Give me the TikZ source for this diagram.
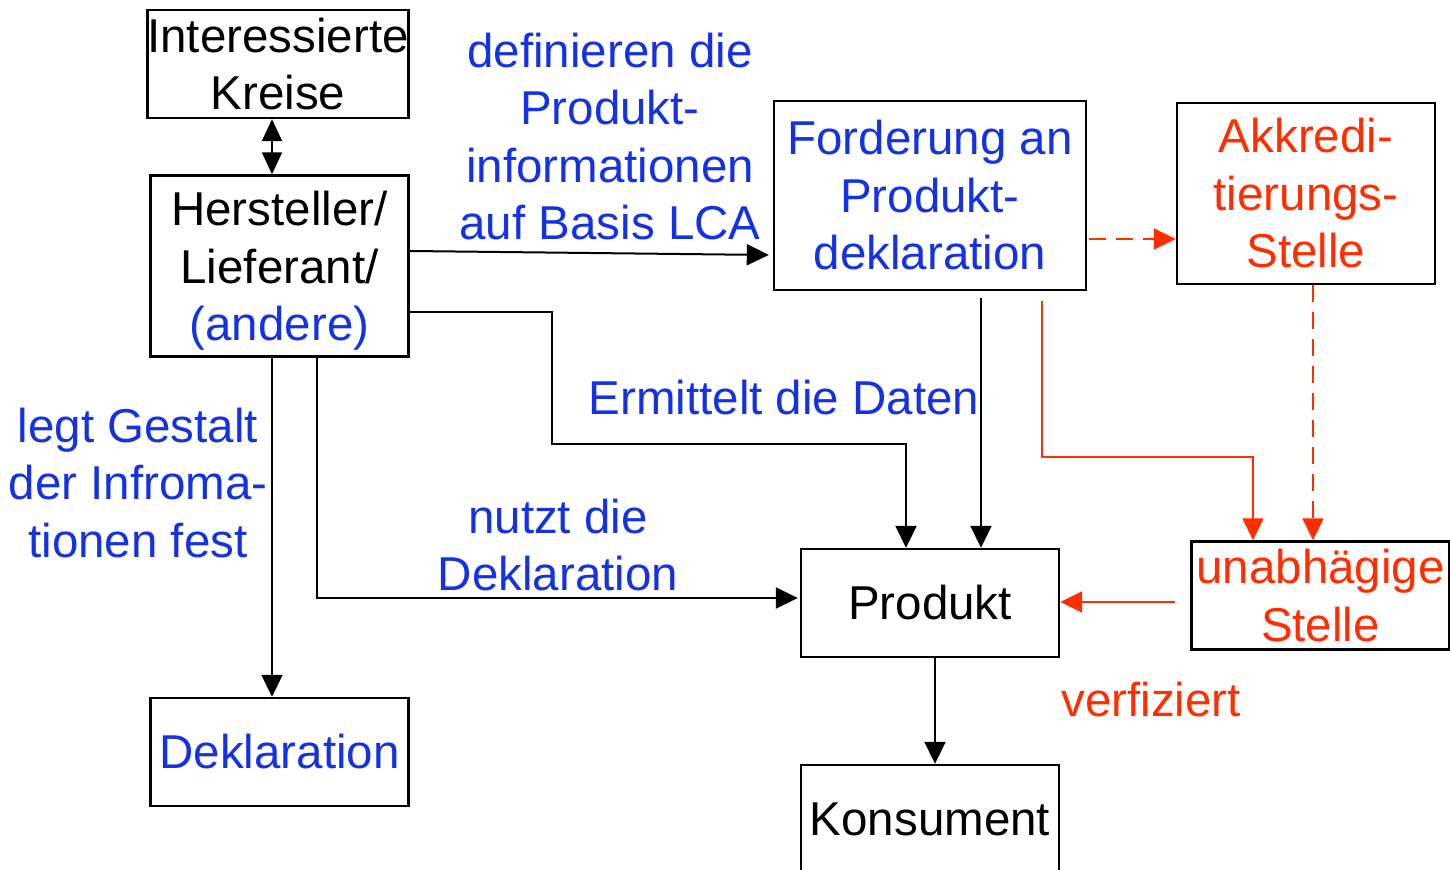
\documentclass[tikz,border=0pt]{standalone}
\usepackage{fontspec}
\setmainfont{Liberation Sans}
\usetikzlibrary{arrows.meta}

\definecolor{txtblue}{RGB}{20,50,225}
\definecolor{txtred}{RGB}{255,45,0}

\tikzstyle{box} = [rectangle, minimum width=129pt, minimum height=54pt, inner sep=0pt, align=center, draw=black, line width=1.2pt, font=\fontsize{23.75pt}{28.75pt}\selectfont]
\tikzstyle{tall} = [box, minimum height=90.5pt]
\tikzstyle{wide} = [box, minimum width=156pt, minimum height=94.5pt]
\tikzstyle{note} = [align=center, inner sep=0pt, text=txtblue, font=\fontsize{23.75pt}{28.75pt}\selectfont]
\tikzstyle{arrow} = [line width=1pt, -{Triangle[length=11pt,width=10.5pt]}]
\tikzstyle{twoway} = [line width=1pt, {Triangle[length=11pt,width=10pt]}-{Triangle[length=11pt,width=10pt]}]
\tikzstyle{redarrow} = [arrow, color=txtred]
\tikzstyle{dasharrow} = [redarrow, dash pattern=on 8.5pt off 5pt]

\begin{document}
\begin{tikzpicture}[node distance=101pt]
	\useasboundingbox (-139pt,32pt) rectangle (586pt,-403pt);
	
	\node (inter) [box] {Interessierte\\Kreise};
	\node (herst) [tall, text depth=0pt, below of=inter, xshift=0.75pt] {Hersteller/\\Lieferant/\\\textcolor{txtblue}{(andere)}};
	\node (dekl) [box, text=txtblue, below of=herst, node distance=243pt] {Deklaration};
	\node (ford) [wide, text=txtblue, right of=herst, node distance=325.25pt, yshift=35.25pt] {Forderung an\\Produkt-\\deklaration};
	\node (akkr) [tall, text=txtred, right of=ford, node distance=188pt, yshift=1pt] {Akkredi-\\tierungs-\\Stelle};
	\node (prod) [box, below of=ford, node distance=203.75pt] {Produkt};
	\node (kons) [box, below of=prod, node distance=108pt] {Konsument};
	\node (unab) [box, text=txtred, right of=prod, node distance=195.25pt, yshift=3.75pt] {unabhägige\\Stelle};
	
	\node (defin) [note, left of=ford, node distance=160pt, yshift=29.5pt] {definieren die\\Produkt-\\informationen\\auf Basis LCA};
	\node (ermit) [note, above of=prod, node distance=102.5pt, xshift=-73pt] {Ermittelt die Daten};
	\node (legt) [note, below of=herst, node distance=108.5pt, xshift=-70.75pt] {legt Gestalt\\der Infroma-\\tionen fest};
	\node (nutzt) [note, left of=prod, node distance=186pt, yshift=29pt] {nutzt die\\Deklaration};
	\node (verf) [note, text=txtred, below of=prod, node distance=48.5pt, xshift=110.5pt] {verfiziert};
	
	\draw [twoway] ([xshift=-3pt]inter.south) -- ([xshift=-3.75pt]herst.north);
	\draw [arrow] ([yshift=7.5pt]herst.east) -- ([xshift=-2pt,yshift=-29.75pt]ford.west);
	\draw [arrow] ([yshift=-23pt]herst.east) -| ++(71pt,-66pt) -| ([xshift=-12pt]prod.north);
	\draw [arrow] ([xshift=18.75pt]herst.south) |- ([xshift=-1pt,yshift=2.5pt]prod.west);
	\draw [arrow] ([xshift=-3.75pt]herst.south) -- ([xshift=-3.75pt]dekl.north);
	\draw [arrow] ([xshift=25.5pt,yshift=-3.5pt]ford.south) -- ([xshift=25.5pt]prod.north);
	\draw [arrow] ([xshift=2.5pt]prod.south) -- ([xshift=2.5pt]kons.north);
	\draw [redarrow] ([xshift=56pt,yshift=-5pt]ford.south) -- ++(0,-78pt) -| ([xshift=-33.75pt]unab.north);
	\draw [dasharrow] ([xshift=1pt,yshift=-21.75pt]ford.east) -- ([yshift=-22.75pt]akkr.west);
	\draw [dasharrow] ([xshift=3.5pt]akkr.south) -- ([xshift=-3.75pt]unab.north);
	\draw [redarrow] ([xshift=-7.5pt,yshift=-3.25pt]unab.west) -- ([yshift=0.5pt]prod.east);
	
\end{tikzpicture}
\end{document}
